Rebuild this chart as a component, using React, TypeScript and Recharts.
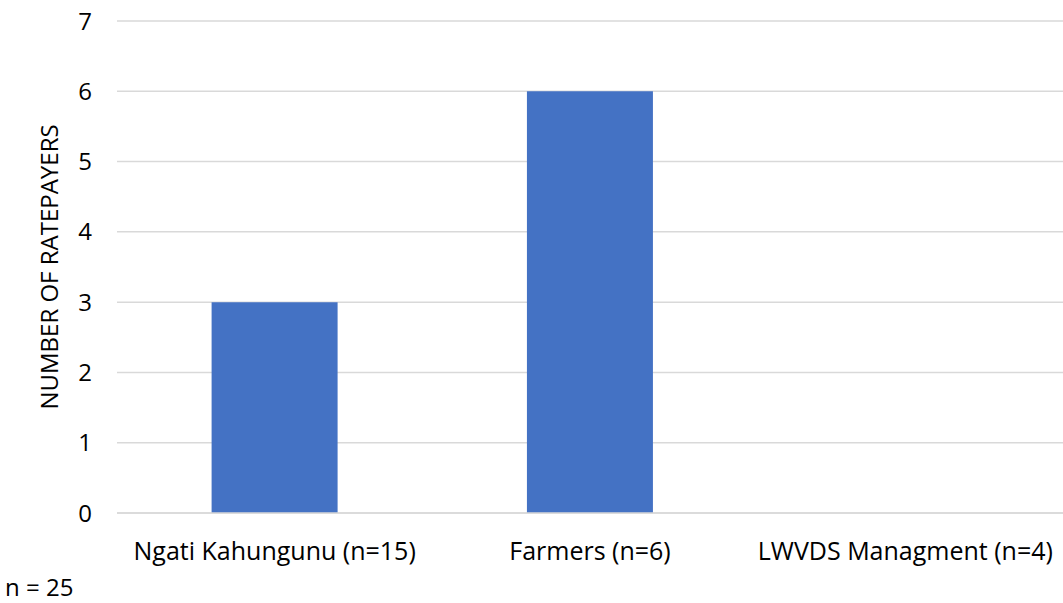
import React from "react";
import { BarChart, Bar, XAxis, YAxis, CartesianGrid } from "recharts";

const categories = ["Ngati Kahungunu (n=15)", "Farmers (n=6)", "LWVDS Managment (n=4)"];
const ratepayers = [3, 6, 0];
const yTicks = [0, 1, 2, 3, 4, 5, 6, 7];

const FONT = "'Open Sans', sans-serif";

export default function App() {
  const data = categories.map((name, i) => ({ name, value: ratepayers[i] }));

  return (
    <div style={{ position: "absolute", left: 0, top: 0, width: 1063, height: 603, background: "#fff", fontFamily: FONT }}>
      <BarChart
        width={1063}
        height={603}
        data={data}
        margin={{ top: 21, right: 0, bottom: 60, left: 0 }}
        barCategoryGap="30%"
      >
        <CartesianGrid vertical={false} stroke="#d9d9d9" strokeWidth={1.5} />
        <XAxis
          dataKey="name"
          height={30}
          tickLine={false}
          axisLine={{ stroke: "#d9d9d9", strokeWidth: 1.5 }}
          tickSize={0}
          tickMargin={29}
          interval={0}
          tick={{ fill: "#000", fontSize: 25, fontFamily: FONT }}
        />
        <YAxis
          width={117}
          domain={[0, 7]}
          ticks={yTicks}
          interval={0}
          axisLine={false}
          tickLine={false}
          tickSize={0}
          tickMargin={25}
          tick={{ fill: "#000", fontSize: 24, fontFamily: FONT }}
          label={{
            value: "NUMBER OF RATEPAYERS",
            angle: -90,
            position: "center",
            dx: -9,
            style: { fill: "#000", fontSize: 24, fontFamily: FONT, textAnchor: "middle" },
          }}
        />
        <Bar dataKey="value" fill="#4472c4" isAnimationActive={false} />
      </BarChart>
      <div
        style={{
          position: "absolute",
          left: 5,
          top: 573,
          height: 28,
          lineHeight: "28px",
          fontSize: 24,
          color: "#000",
          fontFamily: FONT,
          whiteSpace: "pre",
        }}
      >
        n = 25
      </div>
    </div>
  );
}
